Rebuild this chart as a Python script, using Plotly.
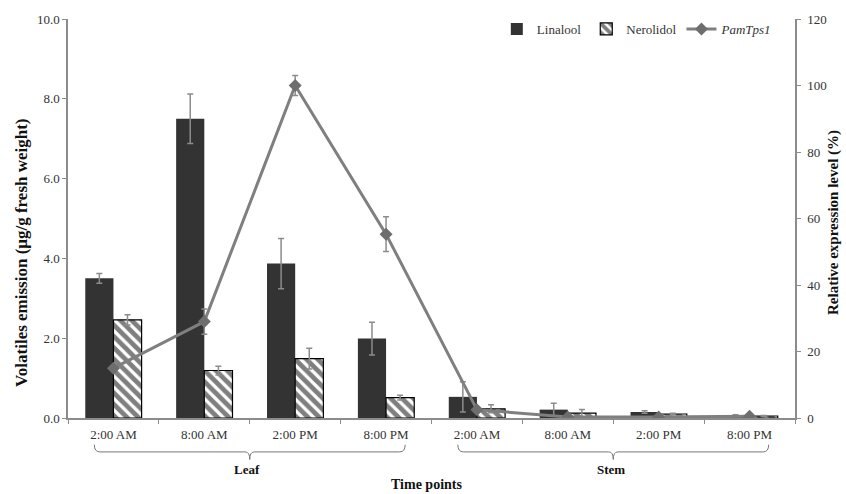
import plotly.graph_objects as go

time_labels = ["2:00 AM", "8:00 AM", "2:00 PM", "8:00 PM",
               "2:00 AM", "8:00 AM", "2:00 PM", "8:00 PM"]
positions = [0, 1, 2, 3, 4, 5, 6, 7]
tissue_groups = ["Leaf", "Stem"]

linalool = [3.50, 7.50, 3.87, 1.99, 0.53, 0.21, 0.15, 0.06]
linalool_err = [0.12, 0.62, 0.63, 0.41, 0.38, 0.16, 0.03, 0.02]
nerolidol = [2.46, 1.19, 1.49, 0.51, 0.23, 0.12, 0.10, 0.05]
nerolidol_err = [0.13, 0.11, 0.26, 0.06, 0.10, 0.09, 0.02, 0.01]
pamtps1 = [15.0, 29.0, 100.0, 55.3, 2.5, 0.3, 0.3, 0.5]
pamtps1_err = [0.0, 3.8, 3.0, 5.2, 0.0, 0.0, 0.0, 0.0]

SERIF = "Liberation Serif, Times New Roman, serif"
AX = "#8c8c8c"

fig = go.Figure()
fig.add_trace(go.Bar(
    x=positions, y=linalool, name="Linalool",
    marker=dict(color="#333333", line=dict(width=0)),
    error_y=dict(type="data", array=linalool_err, color="#8c8c8c", thickness=1.5, width=3),
))
fig.add_trace(go.Bar(
    x=positions, y=nerolidol, name="Nerolidol",
    marker=dict(color="white", line=dict(color="black", width=1.2),
                pattern=dict(shape="\\", fgcolor="black", bgcolor="white", size=8, solidity=0.6)),
    error_y=dict(type="data", array=nerolidol_err, color="#8c8c8c", thickness=1.5, width=3),
))
fig.add_trace(go.Scatter(
    x=positions, y=pamtps1, name="<i>PamTps1</i>", yaxis="y2", mode="lines+markers",
    line=dict(color="#7f7f7f", width=3),
    marker=dict(symbol="diamond", size=10, color="#6e6e6e"),
    error_y=dict(type="data", array=pamtps1_err, color="#8c8c8c", thickness=1.5, width=3),
))

fig.update_layout(
    width=846, height=494,
    margin=dict(l=68, r=51, t=17, b=76),
    plot_bgcolor="white", paper_bgcolor="white",
    barmode="group", bargap=0.38, bargroupgap=0,
    font=dict(family=SERIF, size=13, color="#333333"),
    showlegend=True,
    legend=dict(orientation="h", x=0.975, xanchor="right", y=0.975, yanchor="middle",
                font=dict(family=SERIF, size=13, color="#333333"),
                bgcolor="rgba(0,0,0,0)", traceorder="normal", itemwidth=30),
    xaxis=dict(range=[-0.5, 7.5], tickvals=positions, ticktext=time_labels,
               ticks="", showline=True, linecolor=AX, linewidth=1.5,
               showgrid=False, zeroline=False, ticklabelstandoff=4,
               minor=dict(tick0=-0.5, dtick=1, ticks="outside", ticklen=4,
                          tickcolor=AX, tickwidth=1, showgrid=False)),
    yaxis=dict(range=[0, 10], dtick=2, tickformat=".1f", ticks="outside", ticklen=4,
               tickcolor=AX, showline=True, linecolor=AX, linewidth=1.5,
               showgrid=False, zeroline=False),
    yaxis2=dict(range=[0, 120], dtick=20, overlaying="y", side="right",
                ticks="outside", ticklen=4, tickcolor=AX, showline=True,
                linecolor=AX, linewidth=1.5, showgrid=False, zeroline=False,
                ticklabelstandoff=4),
)

# axis titles
fig.add_annotation(text="<b>Volatiles emission (μg/g fresh weight)</b>", textangle=-90,
                   xref="paper", yref="paper", x=-0.064, y=0.415, xanchor="center", yanchor="middle",
                   showarrow=False, font=dict(family=SERIF, size=17, color="#111111"))
fig.add_annotation(text="<b>Relative expression level (%)</b>", textangle=-90,
                   xref="paper", yref="paper", x=1.053, y=0.49, xanchor="center", yanchor="middle",
                   showarrow=False, font=dict(family=SERIF, size=15, color="#111111"))
fig.add_annotation(text="<b>Time points</b>", xref="x", yref="paper", x=3.45, y=-0.166,
                   xanchor="center", yanchor="middle", showarrow=False,
                   font=dict(family=SERIF, size=14, color="#111111"))

# group brackets
centers = [1.5, 5.5]
half = 1.71
yb, yh, yn = -0.085, -0.067, -0.104
for c, name in zip(centers, tissue_groups):
    x0, x1 = c - half, c + half
    path = (f"M {x0},{yh} Q {x0},{yb} {x0+0.06},{yb} L {c-0.05},{yb} "
            f"Q {c},{yb} {c},{yn} Q {c},{yb} {c+0.05},{yb} L {x1-0.06},{yb} "
            f"Q {x1},{yb} {x1},{yh}")
    fig.add_shape(type="path", path=path, xref="x", yref="paper",
                  line=dict(color="#777777", width=1))
    fig.add_annotation(text=f"<b>{name}</b>", xref="x", yref="paper", x=c - 0.03, y=-0.128,
                       xanchor="center", yanchor="middle", showarrow=False,
                       font=dict(family=SERIF, size=13, color="#111111"))

fig.write_html("out.html", config={"displayModeBar": False},
               post_script="document.body.style.margin='0';document.body.style.padding='0';")
